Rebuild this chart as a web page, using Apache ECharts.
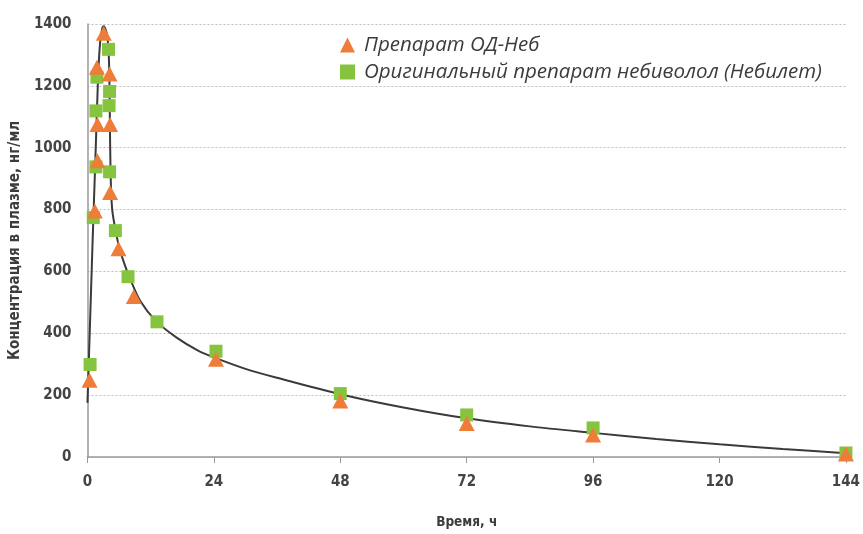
<!DOCTYPE html>
<html>
<head>
<meta charset="utf-8">
<script src="https://cdn.jsdelivr.net/npm/echarts@6/dist/echarts.min.js"></script>
<style>
  html, body { margin: 0; padding: 0; background: #fff; }
  #container { width: 863px; height: 534px; }
</style>
</head>
<body>
<div id="container"></div>
<script>
// Препарат ОД-Неб (треугольники)
const odNebTime = [0.4, 1.4, 1.9, 1.9, 1.8, 3.1, 4.2, 4.3, 4.3, 5.9, 8.8, 24.4, 48, 72, 96, 144];
const odNebConc = [248, 795, 958, 1075, 1260, 1370, 1238, 1075, 855, 673, 519, 316, 181, 108, 71, 10];

// Небилет (квадраты)
const nebiletTime = [0.5, 1.1, 1.6, 1.6, 1.8, 4.0, 4.2, 4.1, 4.2, 5.3, 7.7, 13.2, 24.4, 48, 72, 96, 144];
const nebiletConc = [299, 774, 938, 1119, 1228, 1318, 1182, 1136, 922, 732, 583, 437, 342, 205, 136, 94, 13];

// сглаженная кривая
const fitTime = [0, 0.5, 1, 1.5, 2, 2.4, 2.8, 3.1, 3.5, 3.8, 4.05, 4.2, 4.3, 4.45, 4.7, 5.2, 6, 7, 8, 10, 13, 17, 21, 24, 30, 36, 48, 60, 72, 84, 96, 108, 120, 132, 144];
const fitConc = [175, 440, 710, 960, 1220, 1340, 1385, 1393, 1380, 1355, 1300, 1180, 1020, 880, 800, 745, 680, 625, 580, 505, 440, 385, 344, 322, 285, 256, 203, 160, 125, 99, 78, 58, 41, 26, 12];

const xTicks = [0, 24, 48, 72, 96, 120, 144];

const pairs = (xs, ys) => xs.map((x, i) => [x, ys[i]]);

let dom = document.getElementById('container');
let myChart = echarts.init(dom, null, { renderer: 'canvas' });

const textColor = '#3c3c3c';
const tickFont = 'DejaVu Sans Condensed';

let option = {
  animation: false,
  grid: { left: 87, right: 10, top: 24, bottom: 69 },
  legend: {
    orient: 'vertical',
    left: 335,
    top: 30,
    itemGap: 7,
    itemWidth: 15,
    itemHeight: 15,
    textStyle: { fontFamily: 'Open Sans', fontStyle: 'italic', fontSize: 20.5, color: textColor, padding: [0, 0, 0, 4] },
    data: [
      { name: 'Препарат ОД-Неб', icon: 'triangle' },
      { name: 'Оригинальный препарат небиволол (Небилет)', icon: 'rect' }
    ]
  },
  xAxis: {
    type: 'value',
    min: 0,
    max: 144,
    interval: 24,
    name: 'Время, ч',
    nameLocation: 'middle',
    nameGap: 58,
    nameTextStyle: { fontFamily: tickFont, fontWeight: 'bold', fontSize: 13.5, color: textColor },
    axisLine: { show: true, lineStyle: { color: '#9a9a9a', width: 1.5 } },
    axisTick: { show: true, inside: false, length: 6, lineStyle: { color: '#9a9a9a' } },
    axisLabel: {
      margin: 18,
      fontFamily: tickFont, fontWeight: 'bold', fontSize: 15, color: '#444',
      formatter: v => (xTicks.indexOf(v) >= 0 ? String(v) : '')
    },
    splitLine: { show: false }
  },
  yAxis: {
    type: 'value',
    min: 0,
    max: 1400,
    interval: 200,
    name: 'Концентрация в плазме, нг/мл',
    nameLocation: 'middle',
    nameGap: 60,
    nameTextStyle: { fontFamily: tickFont, fontWeight: 'bold', fontSize: 15, color: textColor },
    axisLine: { show: true, lineStyle: { color: '#9a9a9a', width: 1.5 } },
    axisTick: { show: false },
    axisLabel: {
      margin: 16, fontFamily: tickFont, fontWeight: 'bold', fontSize: 15, color: '#444',
      formatter: v => String(v)
    },
    splitLine: { show: true, lineStyle: { color: '#bdbdbd', type: [2, 2], width: 1 } }
  },
  series: [
    {
      name: 'fit',
      type: 'line',
      data: pairs(fitTime, fitConc),
      smooth: 0.3,
      showSymbol: false,
      lineStyle: { color: '#3a3a3a', width: 2 },
      z: 1
    },
    {
      name: 'Оригинальный препарат небиволол (Небилет)',
      type: 'scatter',
      symbol: 'rect',
      symbolSize: 13,
      data: pairs(nebiletTime, nebiletConc),
      itemStyle: { color: '#86c440', opacity: 1 },
      z: 2
    },
    {
      name: 'Препарат ОД-Неб',
      type: 'scatter',
      symbol: 'triangle',
      symbolSize: [16, 15],
      data: pairs(odNebTime, odNebConc),
      itemStyle: { color: '#ef7d3a', opacity: 1 },
      z: 3
    }
  ]
};

myChart.setOption(option);
</script>
</body>
</html>
